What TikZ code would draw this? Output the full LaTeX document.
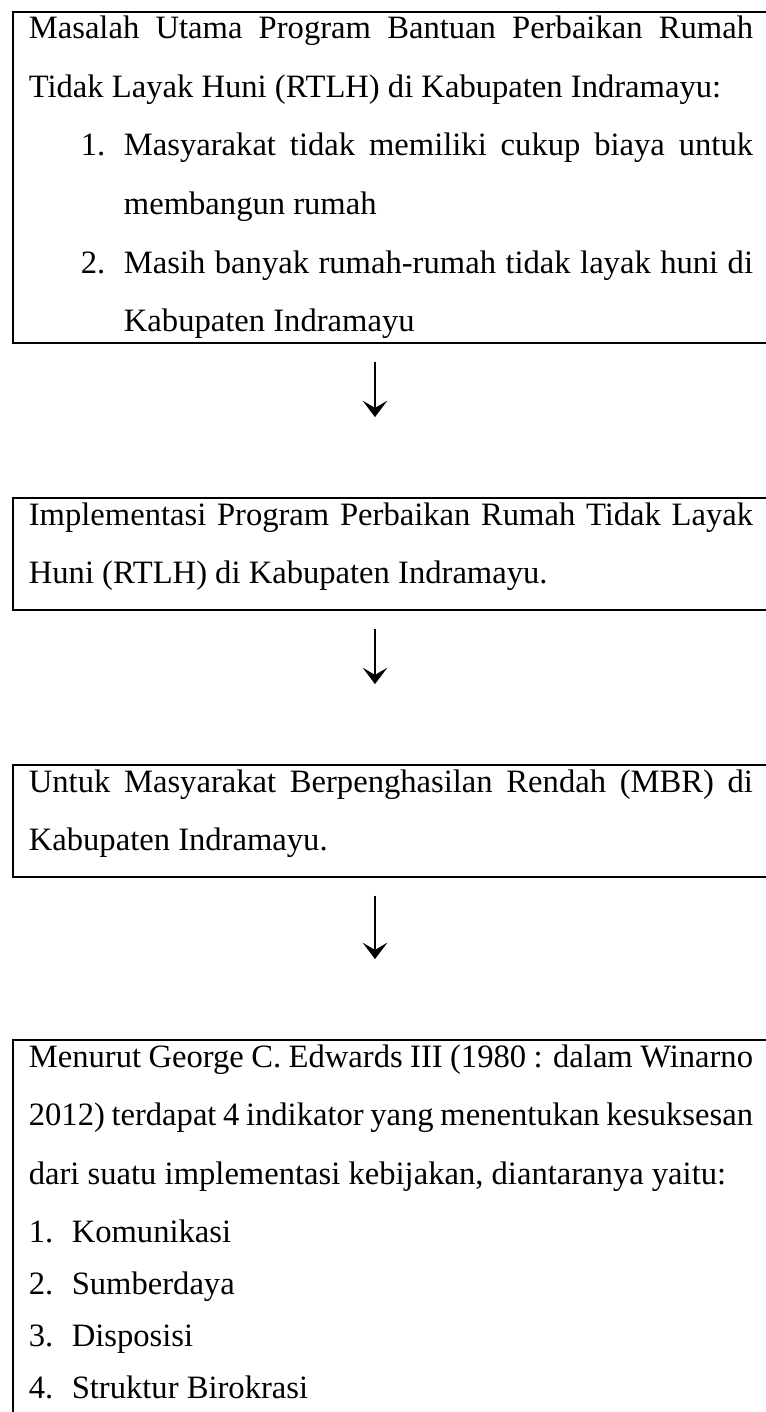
\documentclass[tikz,border=0pt]{standalone}
\usepackage{fontspec}
\setmainfont{Liberation Serif}
\usetikzlibrary{arrows.meta,calc}
\setlength{\parindent}{0pt}
\tolerance=10000
\hyphenpenalty=10000
\exhyphenpenalty=10000
\newcommand{\lstitem}[3]{\noindent\hspace*{-#1}\makebox[#1][l]{#2}#3}
\begin{document}
\begin{tikzpicture}[x=0.368pt,y=-0.368pt,
  box/.style={draw, line width=0.6pt, anchor=north west, inner xsep=5.9pt, inner ysep=0pt,
    text width=266.5pt, align=justify,
    font=\fontsize{12}{21.6}\selectfont},
  arr/.style={line width=1.1pt, -{Stealth[length=6pt,width=9pt,inset=2.6pt]}}]
\useasboundingbox (0,0) rectangle (765,1412);
\node[box, text height=9.75pt, text depth=112.1pt] (b1) at (12,11) {%
\noindent Masalah Utama Program Bantuan Perbaikan Rumah\linebreak Tidak Layak Huni (RTLH) di Kabupaten Indramayu:\par
{\leftskip=35pt
\lstitem{15.9pt}{1.}{Masyarakat tidak memiliki cukup biaya untuk\linebreak membangun rumah}\par
\lstitem{15.9pt}{2.}{Masih banyak rumah-rumah tidak layak huni di\linebreak Kabupaten Indramayu}\par}};
\node[box, text height=10.1pt, text depth=31.1pt] (b2) at (12,497) {%
\noindent Implementasi Program Perbaikan Rumah Tidak Layak\linebreak Huni (RTLH) di Kabupaten Indramayu.};
\node[box, text height=10.1pt, text depth=31.1pt] (b3) at (12,764) {%
\noindent Untuk Masyarakat Berpenghasilan Rendah (MBR) di\linebreak Kabupaten Indramayu.};
\node[box, text height=10.1pt, text depth=200pt] (b4) at (12,1039) {%
\noindent Menurut George C. Edwards III (1980 : dalam Winarno\linebreak 2012) terdapat 4 indikator yang menentukan kesuksesan\linebreak dari suatu implementasi kebijakan, diantaranya yaitu:\par
\vspace{2.2pt}
{\leftskip=15.8pt \baselineskip=19.1pt
\lstitem{15.8pt}{1.}{Komunikasi}\par
\lstitem{15.8pt}{2.}{Sumberdaya}\par
\lstitem{15.8pt}{3.}{Disposisi}\par
\lstitem{15.8pt}{4.}{Struktur Birokrasi}\par}};
\coordinate (ax) at (375,0);
\draw[arr, shorten <=6.6pt, shorten >=29.4pt] (b1.south -| ax) -- (b2.north -| ax);
\draw[arr, shorten <=6.6pt, shorten >=29.4pt] (b2.south -| ax) -- (b3.north -| ax);
\draw[arr, shorten <=6.6pt, shorten >=29.4pt] (b3.south -| ax) -- (b4.north -| ax);
\end{tikzpicture}
\end{document}
